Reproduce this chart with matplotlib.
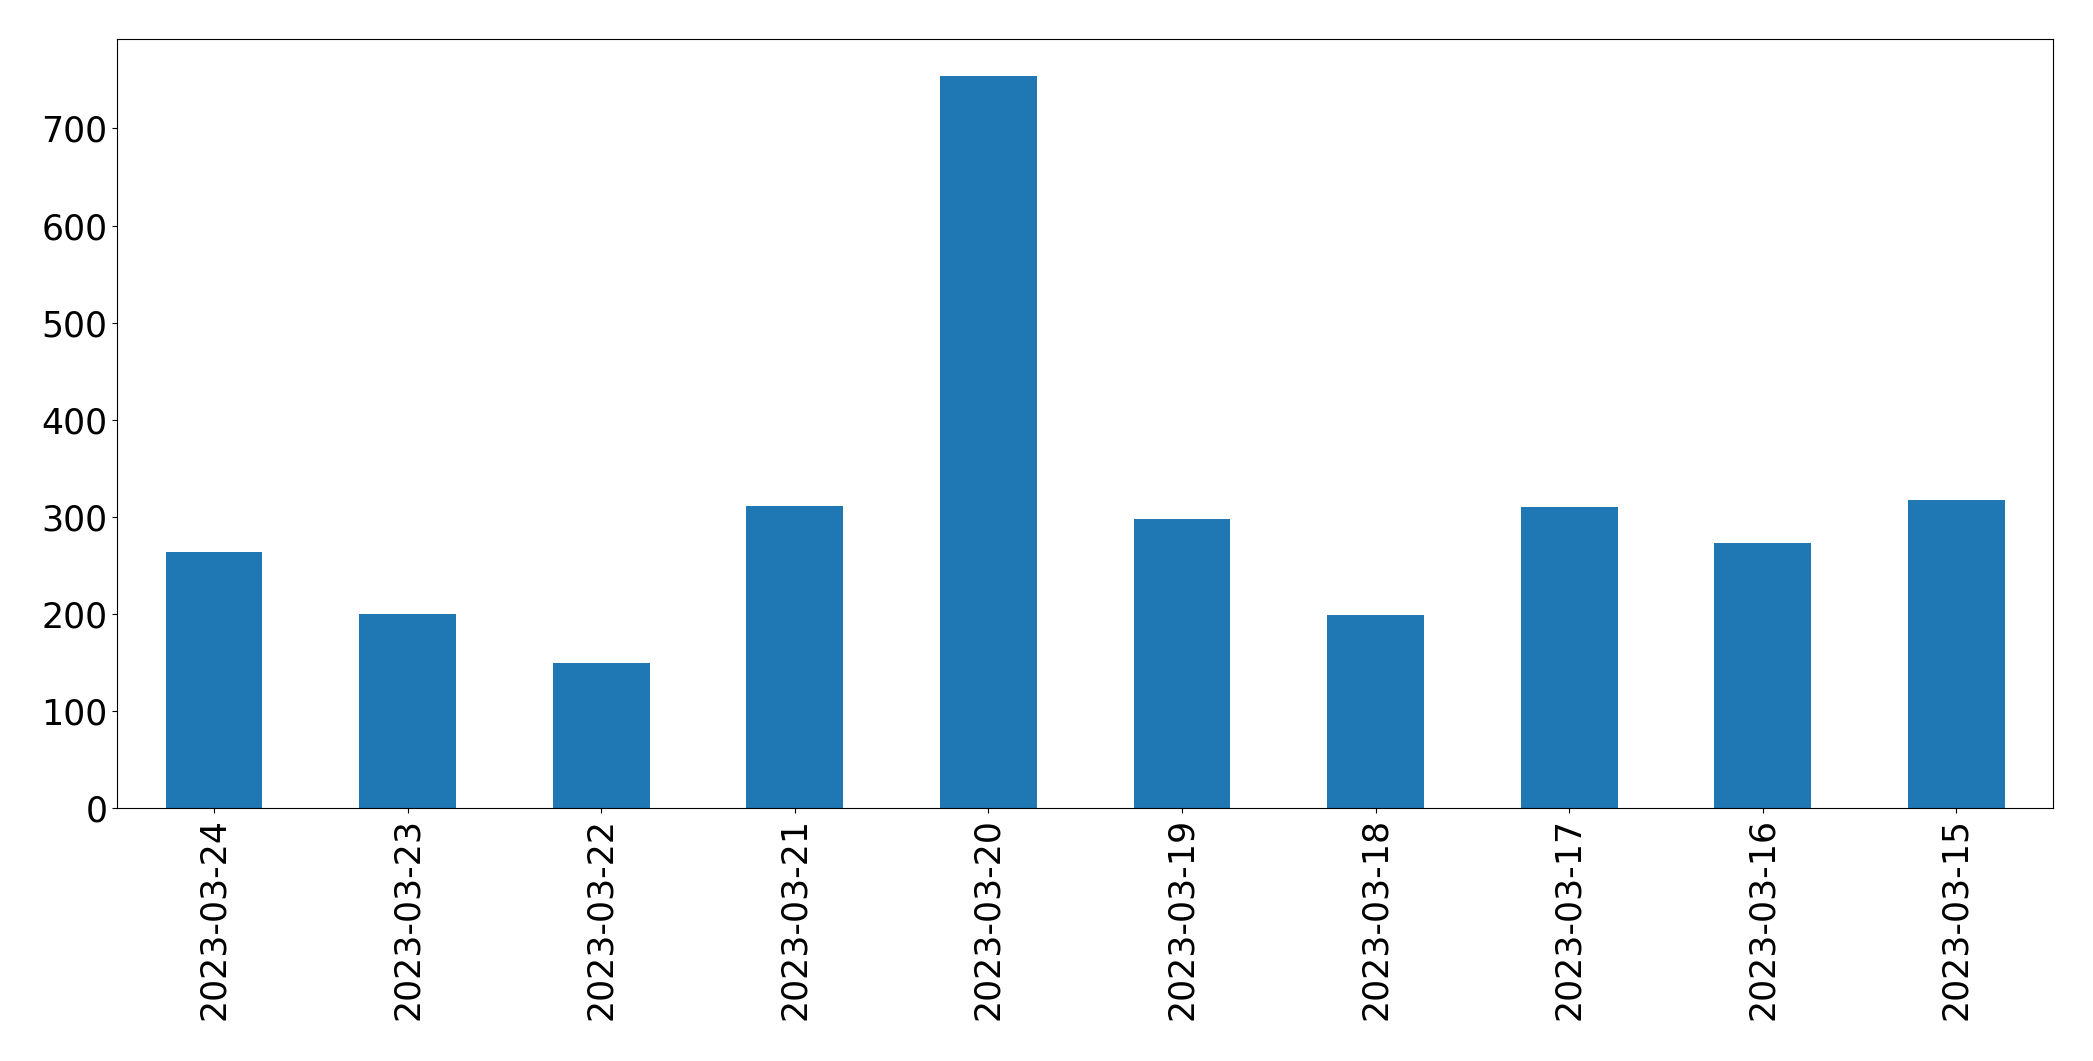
import matplotlib
matplotlib.use("Agg")
import matplotlib.pyplot as plt

# Daily counts, newest first (as in the source chart).
dates = [
    "2023-03-24", "2023-03-23", "2023-03-22", "2023-03-21", "2023-03-20",
    "2023-03-19", "2023-03-18", "2023-03-17", "2023-03-16", "2023-03-15",
]
counts = [264, 200, 150, 311, 754, 298, 199, 310, 273, 318]

fig, ax = plt.subplots(figsize=(20.93, 10.61), dpi=100)

x = range(len(dates))
ax.bar(x, counts, width=0.5, color="#1f77b4")

ax.set_xticks(list(x))
ax.set_xticklabels(dates, rotation=90)
ax.set_xlim(-0.5, len(dates) - 0.5)
ax.set_ylim(0, max(counts) * 1.05)
ax.set_yticks(range(0, 800, 100))
ax.tick_params(axis="both", labelsize=25)

plt.subplots_adjust(left=0.056, right=0.981, top=0.963, bottom=0.238)
plt.savefig("out.png", dpi=100)
